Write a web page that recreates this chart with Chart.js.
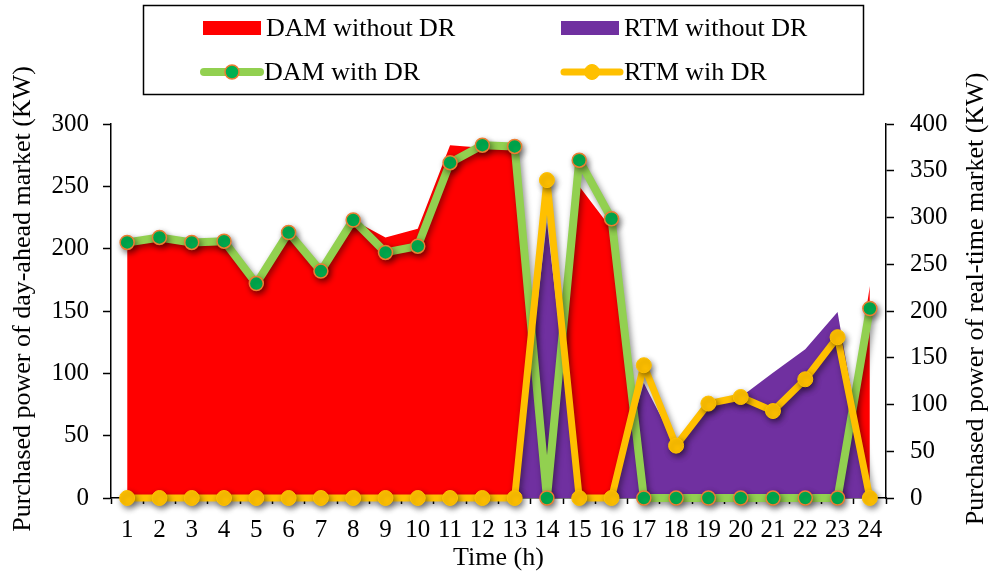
<!DOCTYPE html>
<html>
<head>
<meta charset="utf-8">
<script src="https://cdn.jsdelivr.net/npm/chart.js@4.4.1/dist/chart.umd.min.js"></script>
<style>
  html, body { margin: 0; padding: 0; background: #ffffff; }
  #wrap { width: 989px; height: 583px; }
</style>
</head>
<body>
<div id="wrap"><canvas id="chart" width="989" height="583"></canvas></div>
<script>
// Hourly purchased power (KW)
const hours = ['1','2','3','4','5','6','7','8','9','10','11','12','13','14','15','16','17','18','19','20','21','22','23','24'];
const damWithoutDR = [205, 209, 205, 206, 172, 213, 182, 223, 209, 216, 283, 281, 279, 0, 250, 216, 0, 0, 0, 0, 0, 0, 0, 170];
const rtmWithoutDR = [0, 0, 0, 0, 0, 0, 0, 0, 0, 0, 0, 0, 0, 295, 0, 0, 123, 55, 98, 108, 134, 159, 199, 0];
const damWithDR    = [205, 209, 205, 206, 172, 213, 182, 223, 197, 202, 269, 283, 282, 0, 271, 224, 0, 0, 0, 0, 0, 0, 0, 152];
const rtmWithDR    = [0, 0, 0, 0, 0, 0, 0, 0, 0, 0, 0, 0, 0, 340, 0, 0, 142, 56, 101, 108, 93, 127, 172, 0];
const damTicks = [0, 50, 100, 150, 200, 250, 300];
const rtmTicks = [0, 50, 100, 150, 200, 250, 300, 350, 400];

const SERIF = '"Liberation Serif", "Times New Roman", serif';
const leftTitle = 'Purchased power of day-ahead market (KW)';
const rightTitle = 'Purchased power of real-time market (KW)';

// Soft drop shadow under every series
const shadowPlugin = {
  id: 'seriesShadow',
  beforeDatasetDraw(chart) {
    const ctx = chart.ctx;
    ctx.save();
    ctx.shadowColor = 'rgba(0,0,0,0.45)';
    ctx.shadowBlur = 6;
    ctx.shadowOffsetX = 2;
    ctx.shadowOffsetY = 3;
  },
  afterDatasetDraw(chart) {
    chart.ctx.restore();
  }
};

// Boxed two-row legend and the two vertical axis titles
const decorPlugin = {
  id: 'decor',
  afterDraw(chart) {
    const ctx = chart.ctx;
    const ds = chart.data.datasets;
    ctx.save();
    ctx.strokeStyle = '#000';
    ctx.lineWidth = 1.5;
    ctx.strokeRect(143.5, 5.5, 720, 89);

    ctx.font = '26px ' + SERIF;
    ctx.fillStyle = '#000';
    ctx.textBaseline = 'middle';
    ctx.textAlign = 'left';

    const slots = [
      { d: ds[0], x: 203, y: 28 },
      { d: ds[1], x: 561, y: 28 },
      { d: ds[2], x: 201, y: 72 },
      { d: ds[3], x: 561, y: 72 }
    ];
    slots.forEach(s => {
      const d = s.d;
      if (d.fill) {
        ctx.fillStyle = d.backgroundColor;
        ctx.fillRect(s.x, s.y - 7, 58, 14);
      } else {
        ctx.strokeStyle = d.borderColor;
        ctx.lineWidth = d.borderWidth;
        ctx.lineCap = 'round';
        ctx.beginPath();
        ctx.moveTo(s.x + 3, s.y);
        ctx.lineTo(s.x + 59, s.y);
        ctx.stroke();
        ctx.beginPath();
        ctx.arc(s.x + 31, s.y, d.pointRadius, 0, Math.PI * 2);
        ctx.fillStyle = d.pointBackgroundColor;
        ctx.fill();
        ctx.lineWidth = d.pointBorderWidth;
        ctx.strokeStyle = d.pointBorderColor;
        ctx.stroke();
      }
      ctx.fillStyle = '#000';
      ctx.fillText(d.label, s.x + 63, s.y + 1);
    });

    // vertical axis titles, both reading bottom to top
    ctx.textAlign = 'center';
    [[23, leftTitle], [976, rightTitle]].forEach(([x, text]) => {
      ctx.save();
      ctx.translate(x, 299);
      ctx.rotate(-Math.PI / 2);
      ctx.fillText(text, 0, 0);
      ctx.restore();
    });
    ctx.restore();
  }
};

const tickFont = { family: SERIF, size: 25 };
const noStroke = 'rgba(0,0,0,0)';

new Chart(document.getElementById('chart'), {
  type: 'line',
  data: {
    labels: hours,
    datasets: [
      {
        label: 'DAM without DR',
        data: damWithoutDR,
        yAxisID: 'y',
        fill: 'origin',
        backgroundColor: '#FF0000',
        borderColor: noStroke,
        borderWidth: 0,
        pointRadius: 0,
        tension: 0,
        order: 4,
        clip: false
      },
      {
        label: 'RTM without DR',
        data: rtmWithoutDR,
        yAxisID: 'y2',
        fill: 'origin',
        backgroundColor: '#7030A0',
        borderColor: noStroke,
        borderWidth: 0,
        pointRadius: 0,
        tension: 0,
        order: 3,
        clip: false
      },
      {
        label: 'DAM with DR',
        data: damWithDR,
        yAxisID: 'y',
        fill: false,
        borderColor: '#92D050',
        borderWidth: 8,
        borderJoinStyle: 'round',
        borderCapStyle: 'round',
        pointRadius: 7,
        pointBackgroundColor: '#00B050',
        pointBorderColor: '#ED7D31',
        pointBorderWidth: 1.5,
        tension: 0,
        order: 2,
        clip: false
      },
      {
        label: 'RTM wih DR',
        data: rtmWithDR,
        yAxisID: 'y2',
        fill: false,
        borderColor: '#FFC000',
        borderWidth: 7,
        borderJoinStyle: 'round',
        borderCapStyle: 'round',
        pointRadius: 7.5,
        pointBackgroundColor: '#FFC000',
        pointBorderColor: '#FFC000',
        pointBorderWidth: 1,
        tension: 0,
        order: 1,
        clip: false
      }
    ]
  },
  options: {
    responsive: false,
    animation: false,
    devicePixelRatio: 1,
    layout: { padding: { top: 124, left: 0, right: 0, bottom: 0 } },
    plugins: {
      legend: { display: false },
      tooltip: { enabled: false }
    },
    scales: {
      x: {
        type: 'category',
        offset: true,
        grid: {
          display: true,
          offset: true,
          drawOnChartArea: false,
          drawTicks: true,
          tickLength: 6,
          tickWidth: 1.5,
          color: '#000'
        },
        border: { display: true, color: '#000', width: 1.5 },
        ticks: { font: tickFont, color: '#000', padding: 11, maxRotation: 0, autoSkip: false },
        title: {
          display: true,
          text: 'Time (h)',
          font: { family: SERIF, size: 26 },
          color: '#000',
          padding: { top: 0, bottom: 9 }
        },
        afterFit(scale) { scale.height = 85; }
      },
      y: {
        position: 'left',
        min: 0,
        max: 300,
        afterBuildTicks(scale) { scale.ticks = damTicks.map(v => ({ value: v })); },
        grid: {
          display: true,
          drawOnChartArea: false,
          drawTicks: true,
          tickLength: 8,
          tickWidth: 1.5,
          color: '#000'
        },
        border: { display: true, color: '#000', width: 1.5 },
        ticks: { font: tickFont, color: '#000', padding: 14 },
        afterFit(scale) { scale.width = 111; }
      },
      y2: {
        position: 'right',
        min: 0,
        max: 400,
        afterBuildTicks(scale) { scale.ticks = rtmTicks.map(v => ({ value: v })); },
        grid: {
          display: true,
          drawOnChartArea: false,
          drawTicks: true,
          tickLength: 8,
          tickWidth: 1.5,
          color: '#000'
        },
        border: { display: true, color: '#000', width: 1.5 },
        ticks: { font: tickFont, color: '#000', padding: 16 },
        afterFit(scale) { scale.width = 103; }
      }
    }
  },
  plugins: [shadowPlugin, decorPlugin]
});
</script>
</body>
</html>
